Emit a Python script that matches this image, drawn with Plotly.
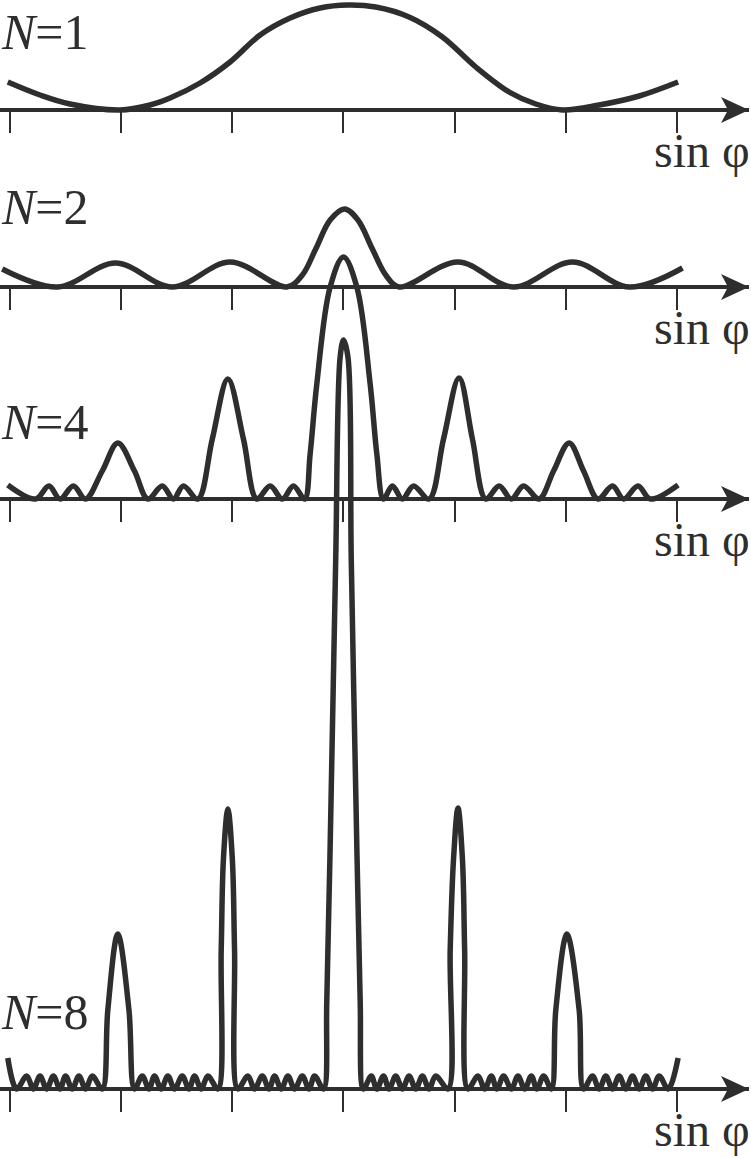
import plotly.graph_objects as go

# ---------------- data ----------------
tick_vals = [-3, -2, -1, 0, 1, 2, 3]
panel_labels = ["<i>N</i>=1", "<i>N</i>=2", "<i>N</i>=4", "<i>N</i>=8"]
axis_title = "sin φ"

# x in units of the tick spacing (sin φ), y = relative intensity (arb. units)
n1_x = [-3.02, -2.73, -2.46, -2.01, -1.74, -1.56, -1.29, -1.02, -0.75, -0.48, -0.21,
        0.04, 0.29, 0.59, 0.89, 1.19, 1.49, 1.73, 1.97, 2.30, 2.66, 3.01]
n1_y = [28, 15, 6, 0, 5, 12, 27, 48, 75, 92, 102,
        105, 103, 93, 73, 43, 18, 6, 0, 5, 14, 28]

n2_x = [-3.07, -2.57, -2.05, -1.54, -1.02, -0.51, -0.37, -0.25, -0.12, 0.01,
        0.13, 0.26, 0.38, 0.50, 1.03, 1.53, 2.06, 2.57, 3.05]
n2_y = [18, 0, 24, 0, 25, 0, 12, 38, 67, 78,
        67, 38, 12, 0, 25, 0, 25, 0, 19]

n4_x = [-3.02, -2.77, -2.65, -2.55, -2.43, -2.32, -2.17, -2.03, -1.88, -1.76,
        -1.63, -1.53, -1.44, -1.31, -1.18, -1.04, -0.90, -0.78, -0.66, -0.55,
        -0.45, -0.35, -0.30, -0.24, -0.12, 0.00, 0.12, 0.24, 0.30, 0.36, 0.44, 0.53,
        0.63, 0.77, 0.90, 1.04, 1.16, 1.28, 1.40, 1.51, 1.62, 1.76,
        1.89, 2.03, 2.16, 2.29, 2.42, 2.52, 2.65, 2.76, 3.01]
n4_y = [14, 0, 13, 0, 13, 0, 28, 56, 28, 0,
        13, 0, 13, 0, 60, 120, 60, 0, 13, 0,
        13, 0, 45, 115, 212, 242, 212, 115, 45, 0, 13, 0,
        13, 0, 60, 121, 60, 0, 13, 0, 13, 0,
        28, 56, 28, 0, 13, 0, 13, 0, 14]

n8_x = [-3.02, -2.94,
        -2.85, -2.79, -2.73, -2.67, -2.61, -2.55, -2.50, -2.44, -2.38, -2.32, -2.26,
        -2.17, -2.12, -2.03, -1.93, -1.88,
        -1.81, -1.75, -1.70, -1.64, -1.58, -1.52, -1.45, -1.39, -1.34, -1.28, -1.22,
        -1.13, -1.10, -1.08, -1.04, -1.00, -0.98, -0.95,
        -0.86, -0.80, -0.73, -0.67, -0.62, -0.56, -0.50, -0.44, -0.37, -0.31, -0.26,
        -0.18, -0.15, -0.11, -0.07, -0.03, 0.00, 0.04, 0.07, 0.11, 0.15, 0.18,
        0.25, 0.30, 0.36, 0.41, 0.47, 0.53, 0.59, 0.65, 0.71, 0.77, 0.83,
        0.94, 0.96, 0.99, 1.03, 1.07, 1.09, 1.12,
        1.21, 1.27, 1.33, 1.38, 1.44, 1.51, 1.57, 1.63, 1.69, 1.74, 1.80,
        1.87, 1.91, 2.01, 2.12, 2.16,
        2.24, 2.30, 2.36, 2.42, 2.48, 2.54, 2.60, 2.66, 2.72, 2.78, 2.84,
        2.92, 3.01]
n8_y = [31, 0,
        13, 0, 13, 0, 13, 0, 13, 0, 13, 0, 13,
        0, 79, 155, 79, 0,
        13, 0, 13, 0, 13, 0, 13, 0, 13, 0, 13,
        0, 139, 230, 280, 230, 139, 0,
        13, 0, 13, 0, 13, 0, 13, 0, 13, 0, 13,
        0, 89, 300, 529, 732, 749, 732, 529, 300, 89, 0,
        13, 0, 13, 0, 13, 0, 13, 0, 13, 0, 13,
        0, 139, 230, 281, 230, 139, 0,
        13, 0, 13, 0, 13, 0, 13, 0, 13, 0, 13,
        0, 79, 155, 79, 0,
        13, 0, 13, 0, 13, 0, 13, 0, 13, 0, 13,
        0, 31]

series = [(n1_x, n1_y), (n2_x, n2_y), (n4_x, n4_y), (n8_x, n8_y)]

# ---------------- layout / style ----------------
W, H = 751, 1158
INK = "#2e2e2e"
FONT = "Liberation Serif"
axis_px = [110, 287, 499, 1089]      # vertical pixel position of each baseline
label_px = [32, 207, 422, 1012]      # centre of the N=.. labels
TICK = 23
X_LEFT, X_RIGHT = -3.090, 3.648      # data range across the x-domain
X_DOM = 749 / W

def px(x, y):
    return x / W, 1 - y / H

fig = go.Figure()
layout = dict(width=W, height=H, margin=dict(l=0, r=0, t=0, b=0),
              paper_bgcolor="white", plot_bgcolor="rgba(0,0,0,0)",
              showlegend=False, annotations=[], shapes=[])

for i, ((xs, ys), a) in enumerate(zip(series, axis_px), start=1):
    sfx = "" if i == 1 else str(i)
    fig.add_trace(go.Scatter(x=xs, y=ys, mode="lines",
                             line=dict(color=INK, width=5.5, shape="spline", smoothing=1.0),
                             xaxis="x" + sfx, yaxis="y" + sfx, hoverinfo="skip"))
    layout["xaxis" + sfx] = dict(domain=[0, X_DOM], range=[X_LEFT, X_RIGHT],
                                 anchor="y" + sfx, tickvals=tick_vals, ticks="inside",
                                 ticklen=TICK, tickwidth=2, tickcolor=INK,
                                 showticklabels=False, showgrid=False, showline=False,
                                 zeroline=False, fixedrange=True)
    layout["yaxis" + sfx] = dict(domain=[1 - (a + TICK) / H, 1], range=[-TICK, a],
                                 anchor="x" + sfx, showticklabels=False, ticks="",
                                 showgrid=False, showline=False, zeroline=True,
                                 zerolinewidth=4, zerolinecolor=INK, fixedrange=True)
    # arrow head
    p = [px(749, a), px(721, a - 13), px(728, a), px(721, a + 13)]
    path = "M {} {} L {} {} L {} {} L {} {} Z".format(*[c for q in p for c in q])
    layout["shapes"].append(dict(type="path", path=path, xref="paper", yref="paper",
                                 fillcolor=INK, line=dict(width=0)))
    # labels
    layout["annotations"].append(dict(text=panel_labels[i - 1], x=0, y=px(0, label_px[i - 1])[1],
                                      xref="paper", yref="paper", xanchor="left",
                                      yanchor="middle", showarrow=False, borderpad=0,
                                      font=dict(family=FONT, size=50, color=INK)))
    layout["annotations"].append(dict(text=axis_title, x=1, y=px(0, a + 40)[1],
                                      xref="paper", yref="paper", xanchor="right",
                                      yanchor="middle", showarrow=False, borderpad=0,
                                      font=dict(family=FONT, size=48, color=INK)))

fig.update_layout(**layout)
fig.write_html("out.html", config={"displayModeBar": False, "staticPlot": True},
               post_script="document.body.style.margin='0';document.body.style.padding='0';")
